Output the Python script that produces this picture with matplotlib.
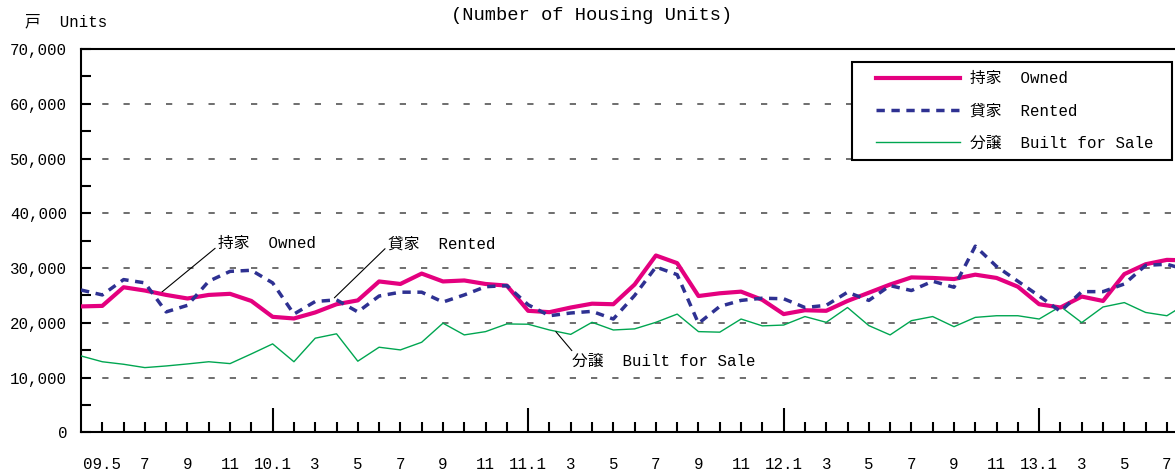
import numpy as np
import matplotlib
matplotlib.use("Agg")
import matplotlib.pyplot as plt
from matplotlib.lines import Line2D
from matplotlib.legend_handler import HandlerLine2D
from matplotlib.ticker import MultipleLocator

plt.rcParams['font.family'] = ['Liberation Mono', 'Noto Sans CJK JP']

# monthly values, 2009.4 - 2013.8 (units)
owned = [23000, 23100, 26500, 25900, 25100, 24450, 25100, 25300, 24000, 21100,
         20800, 21900, 23400, 24100, 27560, 27100, 29000, 27560, 27740, 27100,
         26800, 22200, 21950, 22800, 23500, 23400, 27000, 32300, 30900, 24900,
         25400, 25700, 24200, 21600, 22300, 22200, 24000, 25500, 27000, 28300,
         28200, 28000, 28800, 28200, 26600, 23400, 22800, 24800, 24000, 28900,
         30700, 31500, 31400]
rented = [26000, 25100, 27900, 27300, 22000, 23200, 27600, 29400, 29600, 27300,
          21600, 23900, 24200, 22000, 24900, 25600, 25600, 23800, 25100, 26600,
          26800, 23300, 21300, 21800, 22100, 20700, 25000, 30200, 28800, 19900,
          23000, 24100, 24500, 24400, 22800, 23200, 25600, 24100, 26800, 25900,
          27600, 26500, 34000, 30300, 27600, 24900, 22100, 25700, 25700, 27100,
          30500, 30700, 29600]
built = [13960, 12900, 12440, 11830, 12130, 12500, 12900, 12560, 14330, 16160,
         12900, 17200, 18000, 13000, 15550, 15060, 16460, 19940, 17800, 18400,
         19800, 19750, 18700, 17900, 20100, 18700, 18900, 20100, 21600, 18400,
         18300, 20700, 19450, 19600, 21150, 20100, 22800, 19500, 17800, 20400,
         21150, 19300, 21000, 21300, 21300, 20700, 23000, 20050, 22900, 23700,
         21900, 21300, 23700]

# labels for every second month, starting at 2009.5
tick_labels = ["09.5", "7", "9", "11", "10.1", "3", "5", "7", "9", "11",
               "11.1", "3", "5", "7", "9", "11", "12.1", "3", "5", "7", "9", "11",
               "13.1", "3", "5", "7"]
january_idx = [9, 21, 33, 45]


class PaddedLine(HandlerLine2D):
    # leaves some blank room left of the legend line
    def create_artists(self, legend, orig_handle, xdescent, ydescent, width,
                       height, fontsize, trans):
        s = 10.5
        return super().create_artists(legend, orig_handle, xdescent - s, ydescent,
                                      width - s, height, fontsize, trans)


x = np.arange(len(owned))

fig = plt.figure(figsize=(11.75, 4.72), dpi=100)
ax = fig.add_axes([81 / 1175, 1 - 432.4 / 472, 1 - 81 / 1175, (432.4 - 49) / 472])

ax.plot(x, built, color='#00A651', lw=1.0, label='分譲  Built for Sale', zorder=3)
ax.plot(x, owned, color='#E4007F', lw=3.0, label='持家  Owned', zorder=4,
        solid_joinstyle='round')
ax.plot(x, rented, color='#2E3192', lw=2.5, dashes=(2.4, 1.9), label='貸家  Rented',
        zorder=5)

ax.set_xlim(0, 51.38)
ax.set_ylim(0, 70000)

# y axis
ax.yaxis.set_major_locator(MultipleLocator(10000))
ax.yaxis.set_minor_locator(MultipleLocator(5000))
ax.set_yticklabels([f"{int(v):,}" for v in ax.get_yticks()])
ax.tick_params(axis='y', which='both', direction='in', length=7, width=1.5,
               labelsize=11.3, pad=10)
ax.grid(axis='y', color='#555555', lw=1.2, linestyle=(0, (3.75, 9.0)))

# x axis
pos = np.arange(1, len(tick_labels) * 2, 2)
ax.set_xticks(pos)
ax.set_xticklabels(tick_labels)
ax.set_xticks(np.arange(2, 52, 2), minor=True)
ax.tick_params(axis='x', which='both', direction='in', length=7, width=1.5,
               labelsize=11.3, pad=18)
for t, p in zip(ax.xaxis.get_major_ticks(), pos):
    if p in january_idx:
        t.tick1line.set_markersize(17)

for s in ['left', 'bottom', 'top']:
    ax.spines[s].set_linewidth(1.5)
ax.spines['right'].set_visible(False)

# legend
h, l = ax.get_legend_handles_labels()
order = [1, 2, 0]
leg = ax.legend([h[i] for i in order], [l[i] + ' ' for i in order],
                loc='upper right', bbox_to_anchor=(0.9973, 0.966), borderaxespad=0,
                fontsize=11.3, handlelength=6.28, handletextpad=0.64,
                labelspacing=1.1, borderpad=0.6, fancybox=False, framealpha=1,
                handler_map={Line2D: PaddedLine()})
leg.get_frame().set_edgecolor('black')
leg.get_frame().set_linewidth(1.5)

# callouts
arrow = dict(arrowstyle='-', color='black', lw=0.8, shrinkA=0, shrinkB=0)
ax.annotate('持家  Owned', xy=(3.76, 25500), xytext=(6.43, 34440),
            fontsize=11.3, va='center', ha='left',
            arrowprops=dict(arrow, relpos=(0, 0.35)))
ax.annotate('貸家  Rented', xy=(11.9, 24570), xytext=(14.41, 34440),
            fontsize=11.3, va='center', ha='left',
            arrowprops=dict(arrow, relpos=(0, 0.35)))
ax.annotate('分譲  Built for Sale', xy=(22.3, 18400), xytext=(23.05, 13050),
            fontsize=11.3, va='center', ha='left',
            arrowprops=dict(arrow, relpos=(0.02, 0.9)))

fig.text(25 / 1175, 1 - 22 / 472, '戸  Units', fontsize=11.3, va='center')
fig.text(592 / 1175, 1 - 15 / 472, '(Number of Housing Units)', fontsize=13.5,
         ha='center', va='center')

fig.savefig('out.png', dpi=100)
